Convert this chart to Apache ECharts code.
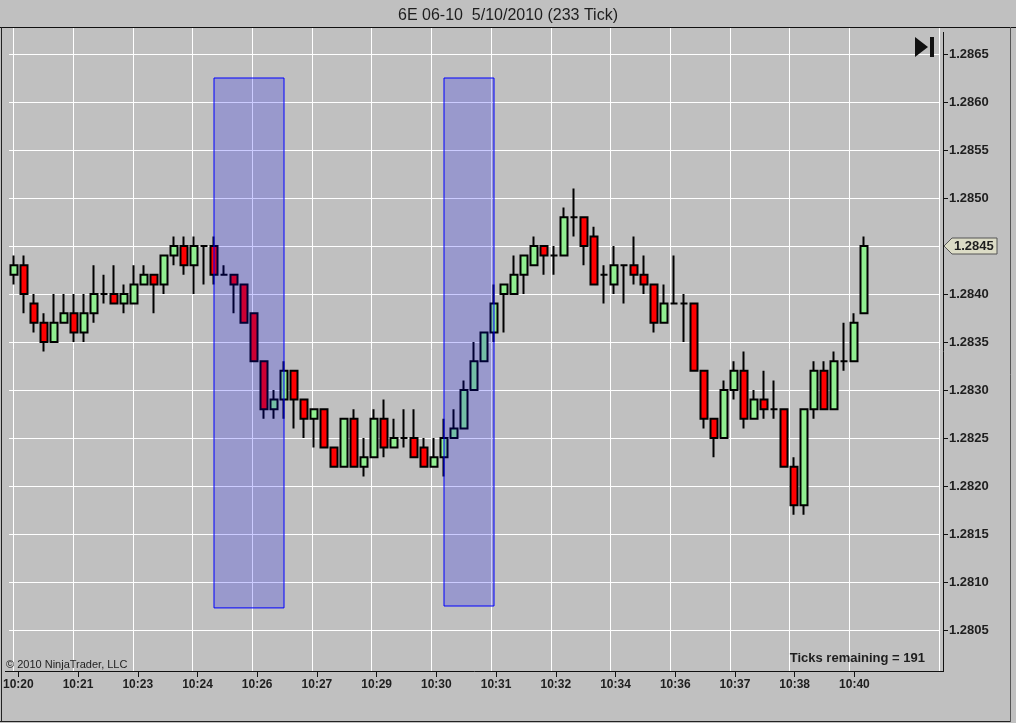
<!DOCTYPE html>
<html>
<head>
<meta charset="utf-8">
<script src="https://cdn.jsdelivr.net/npm/echarts@6/dist/echarts.min.js"></script>
<style>
html,body{margin:0;padding:0;background:#c0c0c0;}
#c{width:1016px;height:723px;}
</style>
</head>
<body>
<div id="c"></div>
<script>
// ---- data ----
const opens  = [1.2842,1.2843,1.2839,1.2837,1.2835,1.2837,1.2838,1.2836,1.2838,1.2840,
                1.2840,1.2839,1.2839,1.2841,1.2842,1.2841,1.2844,1.2845,1.2843,1.2845,
                1.2845,1.2842,1.2842,1.2841,1.2838,1.2833,1.2828,1.2829,1.2832,1.2829,
                1.2827,1.2828,1.2824,1.2822,1.2827,1.2822,1.2823,1.2827,1.2824,1.2825,
                1.2825,1.2824,1.2822,1.2823,1.2825,1.2826,1.2830,1.2833,1.2836,1.2840,
                1.2840,1.2842,1.2843,1.2845,1.2844,1.2844,1.2848,1.2848,1.2846,1.2842,
                1.2841,1.2843,1.2843,1.2842,1.2841,1.2837,1.2839,1.2839,1.2839,1.2832,
                1.2827,1.2825,1.2830,1.2832,1.2827,1.2829,1.2828,1.2828,1.2822,1.2818,
                1.2828,1.2832,1.2828,1.2833,1.2833,1.2838];
const closes = [1.2843,1.2840,1.2837,1.2835,1.2837,1.2838,1.2836,1.2838,1.2840,1.2840,
                1.2839,1.2840,1.2841,1.2842,1.2841,1.2844,1.2845,1.2843,1.2845,1.2845,
                1.2842,1.2842,1.2841,1.2837,1.2833,1.2828,1.2829,1.2832,1.2829,1.2827,
                1.2828,1.2824,1.2822,1.2827,1.2822,1.2823,1.2827,1.2824,1.2825,1.2825,
                1.2823,1.2822,1.2823,1.2825,1.2826,1.2830,1.2833,1.2836,1.2839,1.2841,
                1.2842,1.2844,1.2845,1.2844,1.2844,1.2848,1.2848,1.2845,1.2841,1.2842,
                1.2843,1.2843,1.2842,1.2841,1.2837,1.2839,1.2839,1.2839,1.2832,1.2827,
                1.2825,1.2830,1.2832,1.2827,1.2829,1.2828,1.2828,1.2822,1.2818,1.2828,
                1.2832,1.2828,1.2833,1.2833,1.2837,1.2845];
const lows   = [1.2841,1.2838,1.2836,1.2834,1.2835,1.2837,1.2835,1.2835,1.2837,1.2839,
                1.2839,1.2838,1.2839,1.2841,1.2838,1.2840,1.2843,1.2842,1.2840,1.2841,
                1.2841,1.2842,1.2838,1.2837,1.2833,1.2827,1.2827,1.2827,1.2826,1.2825,
                1.2824,1.2824,1.2822,1.2822,1.2822,1.2821,1.2823,1.2823,1.2824,1.2824,
                1.2823,1.2822,1.2822,1.2821,1.2825,1.2826,1.2830,1.2833,1.2835,1.2836,
                1.2840,1.2840,1.2843,1.2842,1.2842,1.2844,1.2846,1.2843,1.2841,1.2839,
                1.2840,1.2839,1.2841,1.2840,1.2836,1.2837,1.2839,1.2835,1.2832,1.2826,
                1.2823,1.2825,1.2829,1.2826,1.2827,1.2827,1.2827,1.2822,1.2817,1.2817,
                1.2827,1.2828,1.2828,1.2832,1.2833,1.2838];
const highs  = [1.2844,1.2844,1.2840,1.2838,1.2840,1.2840,1.2840,1.2840,1.2843,1.2842,
                1.2843,1.2841,1.2843,1.2843,1.2842,1.2844,1.2846,1.2846,1.2846,1.2845,
                1.2846,1.2843,1.2842,1.2841,1.2838,1.2833,1.2830,1.2833,1.2832,1.2829,
                1.2828,1.2828,1.2824,1.2827,1.2828,1.2825,1.2828,1.2829,1.2827,1.2828,
                1.2828,1.2825,1.2825,1.2827,1.2828,1.2831,1.2835,1.2836,1.2841,1.2841,
                1.2844,1.2844,1.2846,1.2845,1.2845,1.2849,1.2851,1.2848,1.2847,1.2843,
                1.2845,1.2843,1.2846,1.2844,1.2841,1.2841,1.2844,1.2840,1.2839,1.2832,
                1.2827,1.2831,1.2833,1.2834,1.2830,1.2832,1.2831,1.2828,1.2823,1.2828,
                1.2833,1.2833,1.2834,1.2837,1.2838,1.2846];
const tickLabels = ['10:20','10:21','10:23','10:24','10:26','10:27','10:29','10:30',
                    '10:31','10:32','10:34','10:36','10:37','10:38','10:40'];
const barsPerLabel = 6;
const emptySlots = 7;           // free bars to the right of the last candle
// highlighted zones: [fromBar, toBar, topPrice, bottomPrice]
const zoneFrom   = [20, 43];
const zoneTo     = [27, 48];
const zoneTop    = [1.28625, 1.28625];
const zoneBottom = [1.28073, 1.28075];
const yMin = 1.2805, yMax = 1.2865, yStep = 0.0005;
const titleText = '6E 06-10  5/10/2010 (233 Tick)';
const ticksRemaining = 191;

// ---- build ----
const nSlots = opens.length + emptySlots;
const slots = Array.from({length: nSlots}, (_, i) => String(i));
const candles = opens.map((o, i) => [o, closes[i], lows[i], highs[i]]);
const isLabelIdx = (idx) => idx % barsPerLabel === 0 && idx / barsPerLabel < tickLabels.length;
const zones = zoneFrom.map((f, i) => [
  {coord: [String(f), zoneTop[i]]},
  {coord: [String(zoneTo[i]), zoneBottom[i]]}
]);

const chart = echarts.init(document.getElementById('c'), null, {renderer: 'canvas'});
const FONT = '"Liberation Sans", Arial, sans-serif';
const GL = 9, GR = 77;

chart.setOption({
  backgroundColor: '#c0c0c0',
  animation: false,
  title: {
    text: titleText, left: 'center', top: 3,
    textStyle: {fontFamily: FONT, fontSize: 16, fontWeight: 'normal', color: '#1e1e1e'}
  },
  grid: [
    {left: GL, right: GR, top: 54, bottom: 93},   // data
    {left: GL, right: GR, top: 28, bottom: 52}    // frame
  ],
  xAxis: [
    {type: 'category', gridIndex: 0, data: slots, boundaryGap: true, show: false},
    {type: 'category', gridIndex: 1, data: slots, boundaryGap: true, position: 'bottom',
     axisLine: {show: false},
     axisTick: {show: true, alignWithLabel: true, length: 6, interval: (i) => isLabelIdx(i),
                lineStyle: {color: '#111', width: 1}},
     splitLine: {show: true, interval: (i) => isLabelIdx(i), lineStyle: {color: '#ffffff', width: 1}},
     axisLabel: {interval: (i) => isLabelIdx(i), margin: 8,
                 formatter: (v, idx) => isLabelIdx(idx) ? tickLabels[idx / barsPerLabel] : '',
                 fontFamily: FONT, fontSize: 12, fontWeight: 'bold', color: '#1e1e1e'}}
  ],
  yAxis: [
    {type: 'value', gridIndex: 0, position: 'right', offset: 4, min: yMin, max: yMax, interval: yStep,
     axisLine: {show: false},
     axisTick: {show: true, length: 5, lineStyle: {color: '#111'}},
     splitLine: {show: true, lineStyle: {color: '#ffffff', width: 1}},
     axisLabel: {margin: 6, formatter: (v) => v.toFixed(4),
                 fontFamily: FONT, fontSize: 13, fontWeight: 'bold', color: '#1e1e1e'}},
    {type: 'value', gridIndex: 1, show: false}
  ],
  series: [{
    type: 'candlestick', xAxisIndex: 0, yAxisIndex: 0,
    data: candles,
    barWidth: 7,
    itemStyle: {color: '#90ee90', color0: '#ff0000', borderColor: '#000', borderColor0: '#000', borderWidth: 2},
    markArea: {
      z: 10, silent: true,
      itemStyle: {color: 'rgba(0,0,255,0.2)', borderColor: '#0000ff', borderWidth: 1},
      data: zones
    }
  }]
});

// price tag for the last close, positioned through the axis scale
const lastClose = closes[closes.length - 1];
const py = chart.convertToPixel({yAxisIndex: 0}, lastClose);
const ax = 943;
chart.setOption({
  graphic: [
    {type: 'line', shape: {x1: 0, y1: 27.5, x2: 1016, y2: 27.5}, style: {stroke: '#111', lineWidth: 1}, z: 20},
    {type: 'line', shape: {x1: 1.5, y1: 27, x2: 1.5, y2: 721}, style: {stroke: '#222', lineWidth: 1}, z: 20},
    {type: 'line', shape: {x1: 0, y1: 721.5, x2: 1010, y2: 721.5}, style: {stroke: '#222', lineWidth: 1}, z: 20},
    {type: 'line', shape: {x1: 1010.5, y1: 27, x2: 1010.5, y2: 722}, style: {stroke: '#555', lineWidth: 1}, z: 20},
    {type: 'line', shape: {x1: ax + 0.5, y1: 32, x2: ax + 0.5, y2: 671}, style: {stroke: '#111', lineWidth: 1}, z: 20},
    {type: 'line', shape: {x1: 5, y1: 671.5, x2: ax + 1, y2: 671.5}, style: {stroke: '#111', lineWidth: 1}, z: 20},
    {type: 'polygon', shape: {points: [[915, 37], [915, 57], [928, 47]]}, style: {fill: '#111'}, z: 20},
    {type: 'rect', shape: {x: 930, y: 37, width: 4, height: 20}, style: {fill: '#111'}, z: 20},
    {type: 'text', x: 6, y: 665, style: {text: '\u00a9 2010 NinjaTrader, LLC', font: '11px ' + FONT,
      fill: '#1e1e1e', textVerticalAlign: 'middle', verticalAlign: 'middle'}, z: 20},
    {type: 'text', x: 925, y: 658, style: {text: 'Ticks remaining = ' + ticksRemaining, font: 'bold 13px ' + FONT,
      fill: '#1e1e1e', align: 'right', textAlign: 'right', verticalAlign: 'middle', textVerticalAlign: 'middle'}, z: 20},
    {type: 'polygon', shape: {points: [[ax + 1, py], [ax + 9, py - 8], [997, py - 8], [997, py + 8], [ax + 9, py + 8]]},
      style: {fill: '#dcdcc6', stroke: '#555', lineWidth: 1}, z: 21},
    {type: 'text', x: ax + 11, y: py, style: {text: lastClose.toFixed(4), font: 'bold 13px ' + FONT,
      fill: '#1e1e1e', verticalAlign: 'middle', textVerticalAlign: 'middle'}, z: 22}
  ]
});
</script>
</body>
</html>
